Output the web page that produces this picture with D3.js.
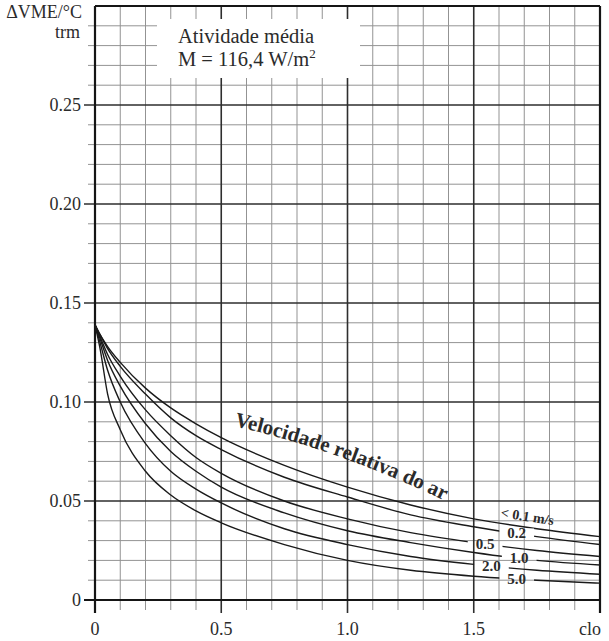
<!DOCTYPE html>
<html>
<head>
<meta charset="utf-8">
<script src="https://cdn.jsdelivr.net/npm/d3@7"></script>
<style>
  html, body { margin: 0; padding: 0; background: #fff; }
  svg { display: block; }
  text { font-family: "Liberation Serif", "DejaVu Serif", serif; fill: #2b2b2b; }
</style>
</head>
<body>
<svg id="chart" width="609" height="641"></svg>
<script>
// Clothing insulation (clo) sample points shared by every curve
const clo = [0, 0.02, 0.05, 0.1, 0.2, 0.3, 0.4, 0.5, 0.75, 1.0, 1.25, 1.5, 1.75, 2.0];

// ΔVME per °C of mean radiant temperature, one array per relative air velocity
const vUnder01 = [0.139, 0.134, 0.128, 0.120, 0.107, 0.097, 0.089, 0.082, 0.068, 0.057, 0.048, 0.041, 0.036, 0.032];
const v02      = [0.139, 0.134, 0.127, 0.118, 0.104, 0.092, 0.083, 0.076, 0.062, 0.052, 0.043, 0.037, 0.032, 0.028];
const v05      = [0.139, 0.133, 0.124, 0.113, 0.096, 0.083, 0.072, 0.064, 0.050, 0.041, 0.034, 0.029, 0.025, 0.022];
const v10      = [0.139, 0.132, 0.121, 0.108, 0.089, 0.075, 0.065, 0.057, 0.044, 0.035, 0.029, 0.024, 0.020, 0.0177];
const v20      = [0.139, 0.130, 0.116, 0.100, 0.079, 0.065, 0.056, 0.049, 0.036, 0.028, 0.022, 0.018, 0.015, 0.013];
const v50      = [0.139, 0.127, 0.104, 0.086, 0.065, 0.053, 0.045, 0.039, 0.028, 0.020, 0.015, 0.012, 0.010, 0.0085];

// Curve labels and the clo position where each one sits
const velocityLabels = ["< 0.1 m/s", "0.2", "0.5", "1.0", "2.0", "5.0"];
const labelClo = [1.71, 1.67, 1.545, 1.68, 1.57, 1.67];

// Axis ticks
const xTickValues = [0, 0.5, 1.0, 1.5, 2.0];
const xTickLabels = ["0", "0.5", "1.0", "1.5", "clo"];
const yTickValues = [0, 0.05, 0.10, 0.15, 0.20, 0.25];
const yTickLabels = ["0", "0.05", "0.10", "0.15", "0.20", "0.25"];

const seriesValues = [vUnder01, v02, v05, v10, v20, v50];

const svg = d3.select("#chart");
const x = d3.scaleLinear().domain([0, 2]).range([95, 600]);
const y = d3.scaleLinear().domain([0, 0.3]).range([600, 6]);

const plotLeft = x(0), plotRight = x(2), plotTop = y(0.3), plotBottom = y(0);

// ---- grid ----
const grid = svg.append("g");
const minorXs = d3.range(1, 20).filter(i => i % 5 !== 0).map(i => i / 10);
const minorYs = d3.range(1, 30).filter(i => i % 5 !== 0).map(i => i / 100);
const majorXs = [0.5, 1.0, 1.5];
const majorYs = [0.05, 0.10, 0.15, 0.20, 0.25];

grid.selectAll(".mx").data(minorXs).join("line")
  .attr("x1", d => x(d)).attr("x2", d => x(d))
  .attr("y1", plotTop).attr("y2", plotBottom + 10)
  .attr("stroke", "#939393").attr("stroke-width", 1);
grid.selectAll(".my").data(minorYs).join("line")
  .attr("y1", d => y(d)).attr("y2", d => y(d))
  .attr("x1", plotLeft - 7).attr("x2", plotRight)
  .attr("stroke", "#939393").attr("stroke-width", 1);
grid.selectAll(".Mx").data(majorXs).join("line")
  .attr("x1", d => x(d)).attr("x2", d => x(d))
  .attr("y1", plotTop).attr("y2", plotBottom + 13)
  .attr("stroke", "#2e2e2e").attr("stroke-width", 1.6);
grid.selectAll(".My").data(majorYs).join("line")
  .attr("y1", d => y(d)).attr("y2", d => y(d))
  .attr("x1", plotLeft - 11).attr("x2", plotRight)
  .attr("stroke", "#2e2e2e").attr("stroke-width", 1.6);

// frame: axes, top and right border
const frame = svg.append("g").attr("stroke", "#151515").attr("stroke-width", 2.2);
frame.append("line").attr("x1", plotLeft).attr("x2", plotLeft).attr("y1", plotTop).attr("y2", plotBottom + 13);
frame.append("line").attr("x1", plotLeft - 11).attr("x2", plotRight).attr("y1", plotBottom).attr("y2", plotBottom);
frame.append("line").attr("x1", plotLeft).attr("x2", plotRight).attr("y1", plotTop).attr("y2", plotTop);
frame.append("line").attr("x1", plotRight).attr("x2", plotRight).attr("y1", plotTop).attr("y2", plotBottom + 13);

// ---- tick labels ----
svg.append("g").selectAll("text").data(yTickValues).join("text")
  .attr("x", plotLeft - 14).attr("y", d => y(d) + 6)
  .attr("text-anchor", "end").attr("font-size", 18)
  .text((d, i) => yTickLabels[i]);

svg.append("g").selectAll("text").data(xTickValues).join("text")
  .attr("x", (d, i) => i === xTickValues.length - 1 ? x(d) + 1 : x(d))
  .attr("y", 635)
  .attr("text-anchor", (d, i) => i === xTickValues.length - 1 ? "end" : "middle")
  .attr("font-size", 18)
  .text((d, i) => xTickLabels[i]);

// y axis title
svg.append("text").attr("x", 82).attr("y", 18).attr("text-anchor", "end")
  .attr("font-size", 18).text("ΔVME/°C");
svg.append("text").attr("x", 80).attr("y", 38).attr("text-anchor", "end")
  .attr("font-size", 18).text("trm");

// ---- activity box ----
svg.append("rect").attr("x", 157).attr("y", 19).attr("width", 203).attr("height", 59)
  .attr("fill", "#fff");
svg.append("text").attr("x", 178).attr("y", 43).attr("font-size", 20.5).text("Atividade média");
const mText = svg.append("text").attr("x", 178).attr("y", 66).attr("font-size", 20.5);
mText.append("tspan").text("M = 116,4 W/m");
mText.append("tspan").attr("font-size", 13).attr("dy", -8).text("2");

// ---- curves ----
const valueAt = (vals, c) => {
  const i = d3.bisectLeft(clo, c);
  if (i <= 0) return vals[0];
  const t = (c - clo[i - 1]) / (clo[i] - clo[i - 1]);
  return vals[i - 1] + t * (vals[i] - vals[i - 1]);
};

const defs = svg.append("defs");
const mask = defs.append("mask").attr("id", "labelGaps").attr("maskUnits", "userSpaceOnUse")
  .attr("x", 0).attr("y", 0).attr("width", 609).attr("height", 641);
mask.append("rect").attr("x", 0).attr("y", 0).attr("width", 609).attr("height", 641).attr("fill", "#fff");

const line = d3.line().x(d => x(d[0])).y(d => y(d[1])).curve(d3.curveMonotoneX);

svg.append("g").attr("mask", "url(#labelGaps)")
  .selectAll("path").data(seriesValues).join("path")
  .attr("d", vals => line(clo.map((c, i) => [c, vals[i]])))
  .attr("fill", "none").attr("stroke", "#1a1a1a").attr("stroke-width", 1.4);

// curve labels
const labels = svg.append("g").attr("font-weight", "bold").attr("font-size", 15);
velocityLabels.forEach((lab, k) => {
  const c = labelClo[k];
  const vals = seriesValues[k];
  const px = x(c), py = y(valueAt(vals, c));
  if (k === 0) {
    const slope = (y(valueAt(vals, c + 0.05)) - y(valueAt(vals, c - 0.05))) / (x(c + 0.05) - x(c - 0.05));
    const ang = Math.atan(slope) * 180 / Math.PI;
    labels.append("text")
      .attr("transform", `translate(${px},${py - 6}) rotate(${ang})`)
      .attr("text-anchor", "middle").attr("font-size", 14).text(lab);
  } else {
    const t = labels.append("text").attr("x", px).attr("y", py + 5)
      .attr("text-anchor", "middle").text(lab);
    const w = t.node().getComputedTextLength();
    mask.append("rect").attr("x", px - w / 2 - 8).attr("y", py - 5)
      .attr("width", w + 16).attr("height", 10).attr("fill", "#000");
  }
});

// label running along the fan of curves
defs.append("path").attr("id", "velPath")
  .attr("d", "M234,426 Q345,451 464,510");
svg.append("text").attr("font-weight", "bold").attr("font-size", 21)
  .append("textPath").attr("href", "#velPath").attr("startOffset", 0)
  .text("Velocidade relativa do ar");
</script>
</body>
</html>
